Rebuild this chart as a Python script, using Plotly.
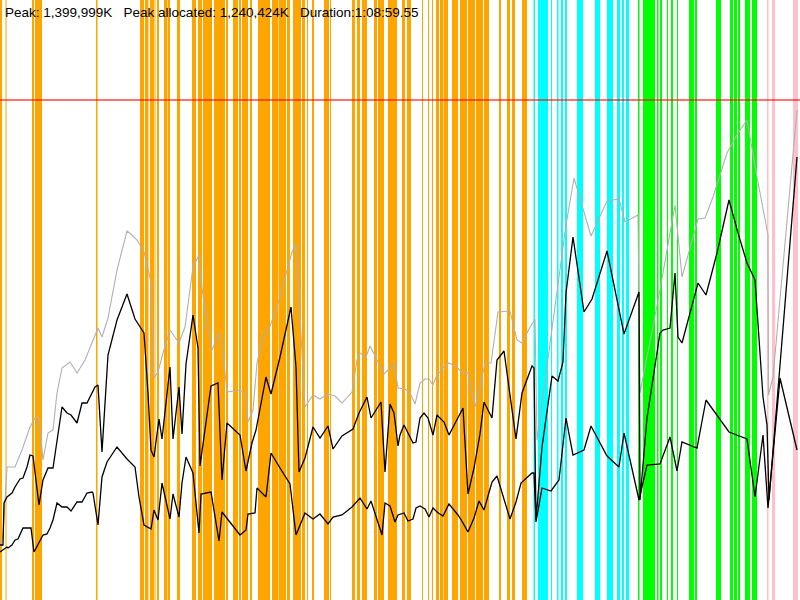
import plotly.graph_objects as go

# memory samples (height units, 0 = empty, 600 = top of window)
reserved_x = [0, 3, 7, 15, 22, 30, 35, 39, 43, 48, 53, 57, 62, 70, 77, 85, 98, 102, 108, 117, 127, 132, 137, 144,
              151, 154, 158, 163, 170, 179, 185, 193, 199, 202, 207, 212, 219, 223, 227, 233, 240, 245, 248, 253,
              257, 263, 270, 277, 285, 292, 296, 300, 305, 313, 320, 328, 335, 342, 352, 357, 360, 366, 370, 377,
              384, 390, 394, 398, 405, 410, 415, 420, 425, 429, 433, 436, 443, 449, 455, 462, 468, 475, 480, 485,
              491, 498, 510, 517, 522, 529, 535, 537, 566, 574, 591, 607, 619, 625, 638, 640, 660, 667, 675, 682,
              690, 698, 705, 713, 727, 738, 747, 757, 768, 768.5, 773, 797]
reserved = [52, 65, 133, 133, 150, 173, 182, 182, 140, 167, 170, 207, 232, 238, 227, 240, 272, 263, 282, 330, 369,
            365, 360, 348, 318, 222, 228, 247, 270, 257, 273, 333, 345, 312, 277, 250, 267, 247, 208, 209, 210, 207,
            178, 190, 237, 263, 274, 293, 322, 348, 356, 280, 193, 205, 201, 206, 204, 197, 208, 240, 247, 243, 254,
            240, 226, 232, 237, 212, 211, 207, 196, 217, 221, 221, 215, 223, 232, 237, 234, 228, 227, 193, 213, 237,
            237, 288, 289, 260, 257, 271, 281, 160, 375, 422, 364, 399, 401, 378, 385, 207, 310, 350, 395, 323,
            353, 381, 382, 403, 447, 467, 480, 423, 365, 205, 223, 490]

allocated_x = [0, 3, 4, 7, 12, 15, 20, 23, 27, 30, 33, 39, 43, 48, 53, 57, 62, 67, 71, 77, 82, 87, 92, 95, 98, 102,
               108, 117, 127, 135, 144, 148, 151, 154, 159, 162, 170, 173, 179, 182, 186, 193, 198, 200, 211, 218,
               222, 227, 240, 246, 252, 256, 266, 271, 280, 291, 296, 299, 305, 313, 320, 328, 333, 342, 353, 359,
               367, 371, 381, 385, 390, 394, 398, 400, 404, 408, 413, 416, 420, 424, 428, 433, 437, 444, 449, 463,
               468, 474, 480, 484, 492, 497, 504, 516, 522, 532, 534, 536, 542, 552, 558, 563, 566, 573, 584, 592,
               607, 624, 639, 640, 647, 660, 663, 670, 675, 678, 682, 690, 698, 706, 717, 729, 738, 747, 755, 763,
               767, 769, 797]
allocated = [55, 55, 97, 103, 107, 113, 121, 122, 133, 145, 144, 95, 120, 132, 132, 160, 193, 187, 185, 177, 197,
             197, 208, 213, 215, 148, 245, 280, 306, 281, 267, 207, 150, 143, 181, 161, 233, 161, 213, 166, 236, 285,
             252, 134, 214, 217, 120, 177, 165, 129, 157, 170, 223, 206, 243, 293, 233, 128, 142, 173, 162, 174, 151,
             164, 171, 187, 203, 182, 198, 128, 196, 187, 154, 165, 175, 167, 157, 158, 182, 187, 182, 165, 185, 178,
             165, 192, 106, 132, 166, 198, 182, 240, 249, 161, 207, 234, 232, 80, 153, 224, 219, 238, 307, 363, 288,
             301, 349, 266, 308, 100, 182, 267, 270, 272, 327, 263, 257, 287, 317, 305, 347, 400, 367, 337, 320, 203,
             175, 100, 443]

used_x = [0, 3, 7, 8, 12, 15, 18, 23, 28, 31, 34, 38, 43, 47, 50, 53, 57, 62, 67, 71, 77, 82, 87, 92, 93, 98, 102,
          107, 117, 127, 135, 139, 144, 151, 154, 158, 162, 170, 173, 179, 182, 186, 193, 199, 201, 211, 219, 222,
          240, 246, 248, 255, 257, 266, 271, 280, 290, 296, 305, 313, 320, 328, 333, 342, 352, 360, 367, 371, 382,
          385, 390, 395, 398, 404, 408, 413, 416, 420, 425, 429, 433, 437, 443, 449, 458, 463, 468, 474, 479, 484,
          492, 497, 503, 510, 516, 521, 532, 534, 536, 542, 551, 559, 566, 573, 584, 591, 607, 619, 624, 639, 647,
          660, 670, 677, 682, 697, 706, 722, 729, 747, 755, 763, 768, 780, 797]
used = [48, 50, 53, 52, 55, 60, 61, 72, 72, 72, 48, 55, 65, 66, 72, 80, 97, 93, 93, 89, 98, 98, 107, 108, 107, 75,
        123, 138, 153, 141, 133, 103, 75, 71, 90, 80, 117, 81, 106, 83, 117, 143, 127, 67, 106, 108, 59, 88, 65, 70,
        86, 87, 112, 103, 147, 132, 116, 65, 87, 81, 86, 76, 83, 85, 93, 102, 91, 99, 65, 97, 94, 78, 85, 87, 79, 81,
        92, 94, 91, 83, 92, 88, 84, 96, 85, 77, 68, 82, 99, 90, 118, 124, 103, 81, 98, 117, 127, 127, 78, 112, 109,
        120, 182, 145, 150, 174, 144, 133, 167, 100, 135, 136, 163, 129, 158, 152, 200, 178, 168, 161, 103, 165, 92,
        222, 150]

limit = 500

# phase bands (start, end) on the same time axis
orange_bands = [(0, 2), (5.5, 6.5), (32, 34), (35, 42), (96, 97.5),
                (140, 144), (145, 148.5), (150, 154), (154.5, 155.5), (157, 159), (164, 167), (167.5, 170),
                (177, 180), (192, 196), (198, 202), (203, 212), (214, 225), (226, 228), (233, 238), (239, 241),
                (242, 248), (250, 252), (258, 270), (272, 278), (278.5, 286), (287, 290), (293, 301), (302, 305),
                (307, 308), (312, 314), (324, 329), (330, 331), (352, 355), (357, 360), (362, 367), (374, 377),
                (378, 384), (388, 397), (402, 405), (407, 411), (422, 423), (428, 429), (432, 433), (436, 439),
                (440, 443), (443.5, 448), (452, 458), (460, 467), (468, 475), (476, 483), (484, 489), (499, 501),
                (507, 510), (512, 515), (522, 527)]
cyan_bands = [(533.5, 535), (538, 548), (551, 552), (557, 558.5), (561, 563), (565, 567), (577, 583), (595, 600),
              (607, 613), (617, 620), (622, 624), (626, 629)]
green_bands = [(638, 639.5), (643, 655), (657, 658.5), (660, 662), (667, 668), (671, 673), (677, 678), (689, 694),
               (695, 697), (716, 721), (730, 733), (734, 737), (738, 740), (745, 750), (752, 757)]
pink_bands = [(767, 768.5), (772, 775), (793, 798)]

summary = "Peak: 1,399,999K   Peak allocated: 1,240,424K   Duration:1:08:59.55"

fig = go.Figure()

for bands, color in [(orange_bands, "#FFA500"), (cyan_bands, "#00FFFF"),
                     (green_bands, "#00FF00"), (pink_bands, "#FFC0CB")]:
    for x0, x1 in bands:
        fig.add_vrect(x0=x0, x1=x1, fillcolor=color, opacity=1, line_width=0, layer="below")

fig.add_trace(go.Scatter(x=reserved_x, y=reserved, mode="lines", line=dict(color="#b0b0b0", width=1.1)))
fig.add_trace(go.Scatter(x=used_x, y=used, mode="lines", line=dict(color="black", width=1.3)))
fig.add_trace(go.Scatter(x=allocated_x, y=allocated, mode="lines", line=dict(color="black", width=1.3)))

fig.add_hline(y=limit, line=dict(color="rgba(255,0,0,0.55)", width=2))

fig.add_annotation(text=summary.replace(" ", "&nbsp;"), xref="paper", yref="paper", x=0, y=1,
                   xanchor="left", yanchor="top", xshift=3, yshift=-3, showarrow=False,
                   font=dict(family="Liberation Sans", size=13.5, color="black"))

fig.update_xaxes(range=[0, 800], visible=False)
fig.update_yaxes(range=[0, 600], visible=False)
fig.update_layout(width=800, height=600, margin=dict(l=0, r=0, t=0, b=0),
                  plot_bgcolor="white", paper_bgcolor="white", showlegend=False)

fig.write_html("out.html", config={"displayModeBar": False},
               post_script="document.body.style.margin='0';document.body.style.overflow='hidden';")
